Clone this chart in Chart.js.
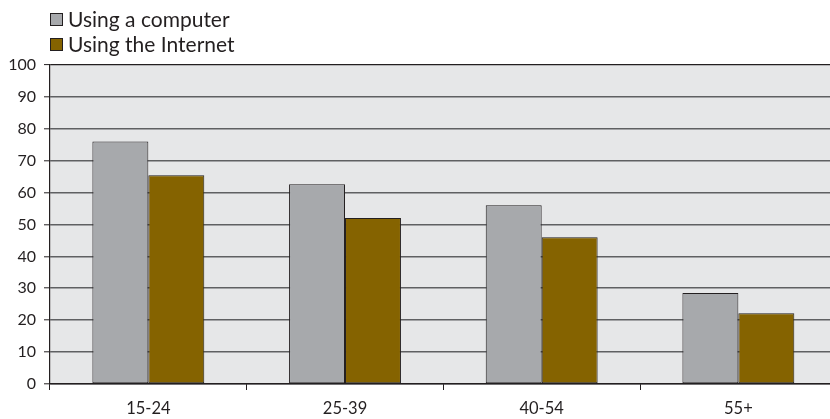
<!DOCTYPE html>
<html>
<head>
<meta charset="utf-8">
<script src="https://cdn.jsdelivr.net/npm/chart.js@4.4.0/dist/chart.umd.min.js"></script>
<style>
  html, body { margin: 0; padding: 0; background: #ffffff; overflow: hidden; }
  #wrap { width: 850px; height: 419px; }
</style>
</head>
<body>
<div id="wrap"><canvas id="c" width="850" height="419"></canvas></div>
<script>
const categories = ['15-24', '25-39', '40-54', '55+'];
const computerValues = [76, 62.6, 56, 28.5];
const internetValues = [65.4, 52, 46, 22.2];
const seriesNames = ['Using a computer', 'Using the Internet'];
const yTicks = [0, 10, 20, 30, 40, 50, 60, 70, 80, 90, 100];

const COLORS = ['#a7a9ac', '#856300'];
const DARK = '#231f20';

const bgPlugin = {
  id: 'plotBg',
  beforeDraw(chart) {
    const { ctx, chartArea: a } = chart;
    ctx.save();
    ctx.fillStyle = '#e6e7e8';
    ctx.fillRect(a.left, a.top, a.right - a.left, a.bottom - a.top);
    ctx.restore();
  }
};

const legendPlugin = {
  id: 'stackLegend',
  afterDraw(chart) {
    const { ctx } = chart;
    ctx.save();
    ctx.font = '21px Lato';
    ctx.textBaseline = 'alphabetic';
    ctx.textAlign = 'left';
    chart.data.datasets.forEach((ds, i) => {
      const y = 13 + i * 25;
      ctx.fillStyle = ds.backgroundColor;
      ctx.fillRect(50, y, 13, 13);
      ctx.strokeStyle = DARK;
      ctx.lineWidth = 1;
      ctx.strokeRect(50.5, y + 0.5, 12, 12);
      ctx.fillStyle = DARK;
      ctx.fillText(ds.label, 68, y + 13.5);
    });
    ctx.restore();
  }
};

new Chart(document.getElementById('c'), {
  type: 'bar',
  data: {
    labels: categories,
    datasets: [
      { label: seriesNames[0], data: computerValues, backgroundColor: COLORS[0] },
      { label: seriesNames[1], data: internetValues, backgroundColor: COLORS[1] }
    ]
  },
  options: {
    responsive: false,
    animation: false,
    layout: { padding: { top: 65, right: 13.3, left: 0, bottom: 0 } },
    datasets: {
      bar: {
        barPercentage: 1,
        categoryPercentage: 0.569,
        borderColor: DARK,
        borderWidth: 1,
        borderSkipped: false
      }
    },
    plugins: {
      legend: { display: false },
      tooltip: { enabled: false }
    },
    scales: {
      x: {
        afterFit(s) { s.height = 35; },
        grid: {
          offset: true,
          drawOnChartArea: false,
          drawTicks: true,
          tickLength: 6,
          color: DARK,
          lineWidth: 1
        },
        border: { color: DARK, width: 1.2 },
        ticks: {
          color: DARK,
          font: { family: 'Lato', size: 16.5 },
          padding: 9,
          maxRotation: 0
        }
      },
      y: {
        min: 0,
        max: 100,
        afterFit(s) { s.width = 50; },
        afterBuildTicks(s) { s.ticks = yTicks.map(v => ({ value: v })); },
        grid: {
          drawTicks: true,
          tickLength: 6,
          color: (c) => (c.tick && (c.tick.value === 100 || c.tick.value === 0)) ? DARK : '#5f6062',
          lineWidth: (c) => (c.tick && c.tick.value === 100) ? 1.2 : 1.6,
          tickColor: DARK,
          tickWidth: 1
        },
        border: { color: DARK, width: 1.2 },
        ticks: {
          color: DARK,
          font: { family: 'Lato', size: 16 },
          padding: 8
        }
      }
    }
  },
  plugins: [bgPlugin, legendPlugin]
});
</script>
</body>
</html>
